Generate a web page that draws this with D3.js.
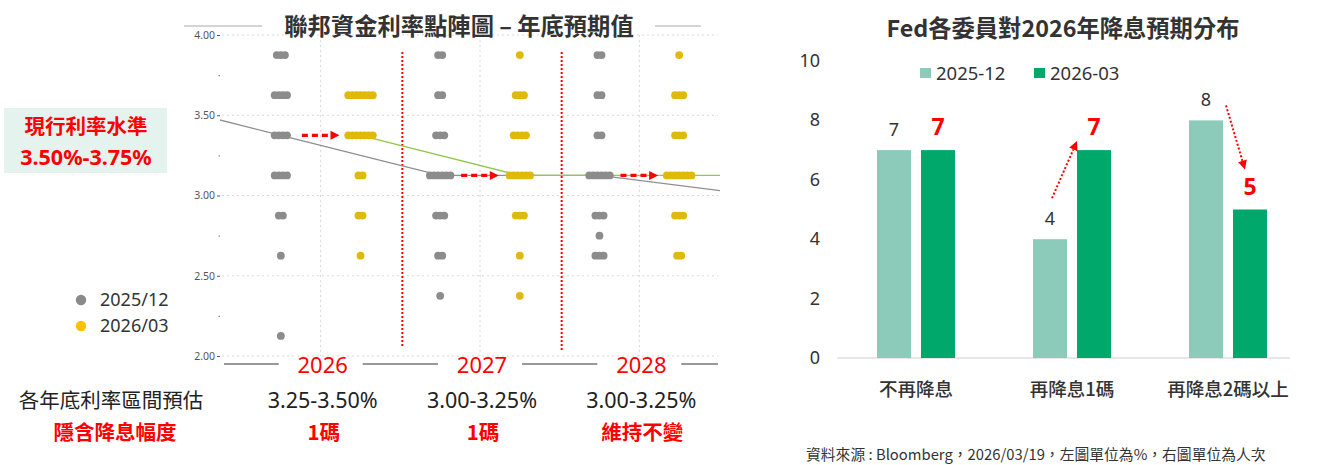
<!DOCTYPE html>
<html><head><meta charset="utf-8">
<script src="https://cdn.jsdelivr.net/npm/d3@7"></script>
<style>
html,body{margin:0;padding:0;background:#fff;}
svg{display:block;font-family:"Noto Sans CJK TC","Noto Sans",sans-serif;}
</style></head><body>
<svg id="c" width="1319" height="465"></svg>
<script>
// ---------- data: left dot plot ----------
const years = ["2026","2027","2028"];
const medianCols = ["2025","2026","2027","2028","LR"];
const rateTicks = [2.00,2.50,3.00,3.50,4.00];
const minorRateTicks = [2.25,2.75,3.25,3.75];
// [year, rate, number of participants]
const dotsDec2025 = [
 ["2026",3.875,3],["2026",3.625,4],["2026",3.375,4],["2026",3.125,4],["2026",2.875,2],["2026",2.625,1],["2026",2.125,1],
 ["2027",3.875,2],["2027",3.625,2],["2027",3.375,3],["2027",3.125,6],["2027",2.875,3],["2027",2.625,2],["2027",2.375,1],
 ["2028",3.875,2],["2028",3.625,2],["2028",3.375,2],["2028",3.125,6],["2028",2.875,3],["2028",2.75,1],["2028",2.625,3]
];
const dotsMar2026 = [
 ["2026",3.625,7],["2026",3.375,7],["2026",3.125,2],["2026",2.875,2],["2026",2.625,1],
 ["2027",3.875,1],["2027",3.625,3],["2027",3.375,4],["2027",3.125,6],["2027",2.875,3],["2027",2.625,1],["2027",2.375,1],
 ["2028",3.875,1],["2028",3.625,3],["2028",3.375,3],["2028",3.125,7],["2028",2.875,3],["2028",2.625,2]
];
const medianDec2025 = [3.625,3.375,3.125,3.125,3.0];
const medianMar2026 = [null,3.375,3.125,3.125,3.125];
const shiftArrows = [["2026",3.375],["2027",3.125],["2028",3.125]];
const rangeLabels = ["3.25-3.50%","3.00-3.25%","3.00-3.25%"];
const impliedCuts = ["1碼","1碼","維持不變"];
const legendDots = ["2025/12","2026/03"];
const currentRate = ["現行利率水準","3.50%-3.75%"];

// ---------- data: right bar chart ----------
const cutCategories = ["不再降息","再降息1碼","再降息2碼以上"];
const seriesNames = ["2025-12","2026-03"];
const votesDec2025 = [7,4,8];
const votesMar2026 = [7,7,5];
const voteTicks = [0,2,4,6,8,10];

const svg = d3.select("#c");
const RED = "#ff0000";
const GRAY_DOT = "#8c8c8c", YEL_DOT = "#dfb90c";

// ================= LEFT CHART =================
const L = {left:220, right:720, top:35, bottom:356};
const bandW = 159.3;
const xYear = d3.scaleBand().domain(medianCols)
  .range([241 - bandW, 719 + bandW]).paddingInner(0).paddingOuter(0);
const colX = (yr, s) => xYear(yr) + xYear.bandwidth() * (s === 0 ? 0.25 : 0.75);
const yRate = d3.scaleLinear().domain([2,4]).range([L.bottom, L.top]);

const gL = svg.append("g");
svg.append("defs").append("clipPath").attr("id","clipL")
  .append("rect").attr("x",L.left).attr("y",L.top-5).attr("width",L.right-L.left).attr("height",L.bottom-L.top+10);

// horizontal dotted grid
gL.selectAll(".hg").data(rateTicks).join("line")
  .attr("x1",L.left+2).attr("x2",L.right-2)
  .attr("y1",d=>yRate(d)).attr("y2",d=>yRate(d))
  .attr("stroke","#d8d8d8").attr("stroke-width",1).attr("stroke-dasharray","2,3");
// vertical dotted grid at year centres
gL.selectAll(".vg").data(years).join("line")
  .attr("x1",d=>xYear(d)+xYear.bandwidth()/2).attr("x2",d=>xYear(d)+xYear.bandwidth()/2)
  .attr("y1",L.top).attr("y2",L.bottom)
  .attr("stroke","#d8d8d8").attr("stroke-width",1).attr("stroke-dasharray","2,3");

// y axis
const yAx = gL.append("g").attr("transform",`translate(${L.left},0)`)
  .call(d3.axisLeft(yRate).tickValues(rateTicks).tickFormat(d3.format(".2f")).tickSize(3).tickPadding(2));
yAx.select(".domain").remove();
yAx.selectAll("text").attr("font-size",10.5).attr("fill","#555").attr("font-family","Noto Sans, sans-serif");
yAx.selectAll("line").attr("stroke","#555");
gL.append("g").attr("transform",`translate(${L.left},0)`)
  .call(d3.axisLeft(yRate).tickValues(minorRateTicks).tickFormat("").tickSize(1.5))
  .call(g=>{g.select(".domain").remove(); g.selectAll("line").attr("stroke","#777");});

// red dotted separators between years
const seps = [xYear("2027"), xYear("2028")];
gL.selectAll(".sep").data(seps).join("line")
  .attr("x1",d=>d+2).attr("x2",d=>d+2).attr("y1",52).attr("y2",(d,i)=>i===0?348:352)
  .attr("stroke",RED).attr("stroke-width",2).attr("stroke-dasharray","2,2");

// median lines
const gLines = gL.append("g").attr("clip-path","url(#clipL)");
const lineGen = d3.line().defined(d=>d[1]!=null).x(d=>d[0]).y(d=>yRate(d[1]));
gLines.append("path")
  .datum(medianCols.map((c,i)=>[colX(c,0), medianDec2025[i]]))
  .attr("d",lineGen).attr("fill","none").attr("stroke","#8f8f8f").attr("stroke-width",1.3);
gLines.append("path")
  .datum(medianCols.map((c,i)=>[colX(c,1), medianMar2026[i]]))
  .attr("d",lineGen).attr("fill","none").attr("stroke","#92c845").attr("stroke-width",1.3);

// dots
const step = 4.1, r = 3.9;
function drawDots(data, s, color){
  const pts = [];
  data.forEach(([yr, rate, n])=>{
    for(let i=0;i<n;i++) pts.push({x: colX(yr,s) + (i-(n-1)/2)*step, y: yRate(rate)});
  });
  gL.append("g").selectAll("circle").data(pts).join("circle")
    .attr("cx",d=>d.x).attr("cy",d=>d.y).attr("r",r).attr("fill",color);
}
drawDots(dotsDec2025,0,GRAY_DOT);
drawDots(dotsMar2026,1,YEL_DOT);

// red dashed shift arrows
shiftArrows.forEach(([yr, rate])=>{
  const x1 = colX(yr,0)+21, tip = colX(yr,1)-21, y = yRate(rate);
  gL.append("line").attr("x1",x1).attr("x2",tip-7).attr("y1",y).attr("y2",y)
    .attr("stroke",RED).attr("stroke-width",3.2).attr("stroke-dasharray","6,4");
  gL.append("path").attr("d",`M${tip},${y} L${tip-9},${y-4.5} L${tip-9},${y+4.5} Z`).attr("fill",RED);
});

// title with flanking lines
svg.append("text").attr("x",459).attr("y",35).attr("text-anchor","middle")
  .attr("font-size",23.3).attr("font-weight","bold").attr("fill","#333")
  .text("聯邦資金利率點陣圖 – 年底預期值");
svg.append("line").attr("x1",184).attr("x2",262).attr("y1",26).attr("y2",26).attr("stroke","#aaa").attr("stroke-width",1);
svg.append("line").attr("x1",655).attr("x2",701).attr("y1",26).attr("y2",26).attr("stroke","#aaa").attr("stroke-width",1);

// bottom year labels with line
const yrCentre = d=>xYear(d)+xYear.bandwidth()/2;
const gapHalf = 42;
const segs = [[224, yrCentre("2026")-gapHalf]];
years.forEach((y,i)=>{
  const a = yrCentre(y)+gapHalf;
  const b = i<years.length-1 ? yrCentre(years[i+1])-gapHalf : 718;
  segs.push([a,b]);
});
svg.selectAll(".ys").data(segs).join("line")
  .attr("x1",d=>d[0]).attr("x2",d=>d[1]).attr("y1",364).attr("y2",364)
  .attr("stroke","#777").attr("stroke-width",1.3);
svg.selectAll(".yl").data(years).join("text")
  .attr("x",d=>yrCentre(d)+2).attr("y",373).attr("text-anchor","middle")
  .attr("font-size",22).attr("fill",RED).attr("font-family","Noto Sans, sans-serif").text(d=>d);

// range & cut labels
svg.selectAll(".rl").data(rangeLabels).join("text")
  .attr("x",(d,i)=>yrCentre(years[i])+2).attr("y",408).attr("text-anchor","middle")
  .attr("font-size",21.5).attr("fill","#222").attr("font-family","Noto Sans, sans-serif").text(d=>d);
svg.selectAll(".cl").data(impliedCuts).join("text")
  .attr("x",(d,i)=>yrCentre(years[i])+3).attr("y",440).attr("text-anchor","middle")
  .attr("font-size",20.5).attr("font-weight","bold").attr("fill",RED).text(d=>d);
svg.append("text").attr("x",111).attr("y",408).attr("text-anchor","middle")
  .attr("font-size",20.5).attr("fill","#222").text("各年底利率區間預估");
svg.append("text").attr("x",115).attr("y",440).attr("text-anchor","middle")
  .attr("font-size",20.5).attr("font-weight","bold").attr("fill",RED).text("隱含降息幅度");

// current rate box
svg.append("rect").attr("x",4).attr("y",108).attr("width",163).attr("height",65).attr("fill","#e4f3ee");
svg.append("text").attr("x",86).attr("y",134).attr("text-anchor","middle")
  .attr("font-size",20.5).attr("font-weight","bold").attr("fill",RED).text(currentRate[0]);
svg.append("text").attr("x",86).attr("y",165).attr("text-anchor","middle")
  .attr("font-size",21.5).attr("font-weight","bold").attr("fill",RED).attr("font-family","Noto Sans, sans-serif").text(currentRate[1]);

// legend
const legCol = ["#8a8a8a","#ffc000"];
legendDots.forEach((t,i)=>{
  svg.append("circle").attr("cx",81).attr("cy",300+i*26).attr("r",5.2).attr("fill",legCol[i]);
  svg.append("text").attr("x",100).attr("y",306+i*26).attr("font-size",18)
    .attr("fill","#333").attr("font-family","Noto Sans, sans-serif").text(t);
});

// ================= RIGHT CHART =================
const R = {left:837, right:1290, base:358, top:61};
const yV = d3.scaleLinear().domain([0,10]).range([R.base, R.top]);
const x0 = d3.scaleBand().domain(cutCategories).range([838,1306]);
const x1 = d3.scaleBand().domain(seriesNames).range([39,117]).paddingInner(0.227);
const barCol = ["#8ccbb9","#00a86b"];
const seriesVals = [votesDec2025, votesMar2026];

// y tick labels
svg.append("g").selectAll("text").data(voteTicks).join("text")
  .attr("x",820).attr("y",d=>yV(d)+6).attr("text-anchor","end")
  .attr("font-size",18).attr("fill","#333").attr("font-family","Noto Sans, sans-serif").text(d=>d);
// baseline
svg.append("line").attr("x1",R.left).attr("x2",R.right).attr("y1",R.base).attr("y2",R.base)
  .attr("stroke","#d0d0d0").attr("stroke-width",1.2);

// bars
const gB = svg.append("g");
seriesNames.forEach((s,si)=>{
  gB.append("g").selectAll("rect").data(cutCategories).join("rect")
    .attr("x",c=>x0(c)+x1(s)).attr("width",x1.bandwidth())
    .attr("y",(c,i)=>yV(seriesVals[si][i])).attr("height",(c,i)=>R.base-yV(seriesVals[si][i]))
    .attr("fill",barCol[si]);
});
// value labels
gB.append("g").selectAll("text").data(cutCategories).join("text")
  .attr("x",c=>x0(c)+x1(seriesNames[0])+x1.bandwidth()/2)
  .attr("y",(c,i)=>yV(votesDec2025[i])-14).attr("text-anchor","middle")
  .attr("font-size",18).attr("fill","#333").attr("font-family","Noto Sans, sans-serif").text((c,i)=>votesDec2025[i]);
gB.append("g").selectAll("text").data(cutCategories).join("text")
  .attr("x",c=>x0(c)+x1(seriesNames[1])+x1.bandwidth()/2)
  .attr("y",(c,i)=>yV(votesMar2026[i])-15).attr("text-anchor","middle")
  .attr("font-size",23).attr("font-weight","bold").attr("fill",RED).attr("font-family","Noto Sans, sans-serif").text((c,i)=>votesMar2026[i]);

// category labels
svg.append("g").selectAll("text").data(cutCategories).join("text")
  .attr("x",c=>x0(c)+x0.bandwidth()/2).attr("y",396).attr("text-anchor","middle")
  .attr("font-size",18.5).attr("font-weight",500).attr("fill","#333").text(c=>c);

// legend
seriesNames.forEach((s,i)=>{
  const lx = i===0 ? 920 : 1034;
  svg.append("rect").attr("x",lx).attr("y",68).attr("width",11).attr("height",10).attr("fill",barCol[i]);
  svg.append("text").attr("x",lx+16).attr("y",80).attr("font-size",18.5).attr("fill","#333")
    .attr("font-family","Noto Sans, sans-serif").text(s);
});

// title
svg.append("text").attr("x",1063).attr("y",37).attr("text-anchor","middle")
  .attr("font-size",23.3).attr("font-weight","bold").attr("fill","#333").text("Fed各委員對2026年降息預期分布");

// red dotted change arrows
function dotArrow(xa,ya,xb,yb){
  const ang = Math.atan2(yb-ya, xb-xa), L2 = 9, W = 4.5;
  const bx = xb - L2*Math.cos(ang), by = yb - L2*Math.sin(ang);
  svg.append("line").attr("x1",xa).attr("y1",ya).attr("x2",bx).attr("y2",by)
    .attr("stroke",RED).attr("stroke-width",2).attr("stroke-dasharray","2,2");
  const px = -Math.sin(ang)*W, py = Math.cos(ang)*W;
  svg.append("path").attr("d",`M${xb},${yb} L${bx+px},${by+py} L${bx-px},${by-py} Z`).attr("fill",RED);
}
{
  const c1 = cutCategories[1], c2 = cutCategories[2];
  const lx1 = x0(c1)+x1(seriesNames[0])+x1.bandwidth()/2;
  const dx1 = x0(c1)+x1(seriesNames[1])+x1.bandwidth()/2;
  dotArrow(lx1+2, yV(votesDec2025[1])-41, dx1-17, yV(votesMar2026[1])-9);
  const lx2 = x0(c2)+x1(seriesNames[0])+x1.bandwidth()/2;
  const dx2 = x0(c2)+x1(seriesNames[1])+x1.bandwidth()/2;
  dotArrow(lx2+20, yV(votesDec2025[2])-15, dx2-5, yV(votesMar2026[2])-40);
}

// source
svg.append("text").attr("x",806).attr("y",460).attr("font-size",14.8).attr("fill","#333")
  .text("資料來源 : Bloomberg，2026/03/19，左圖單位為%，右圖單位為人次");
</script>
</body></html>
